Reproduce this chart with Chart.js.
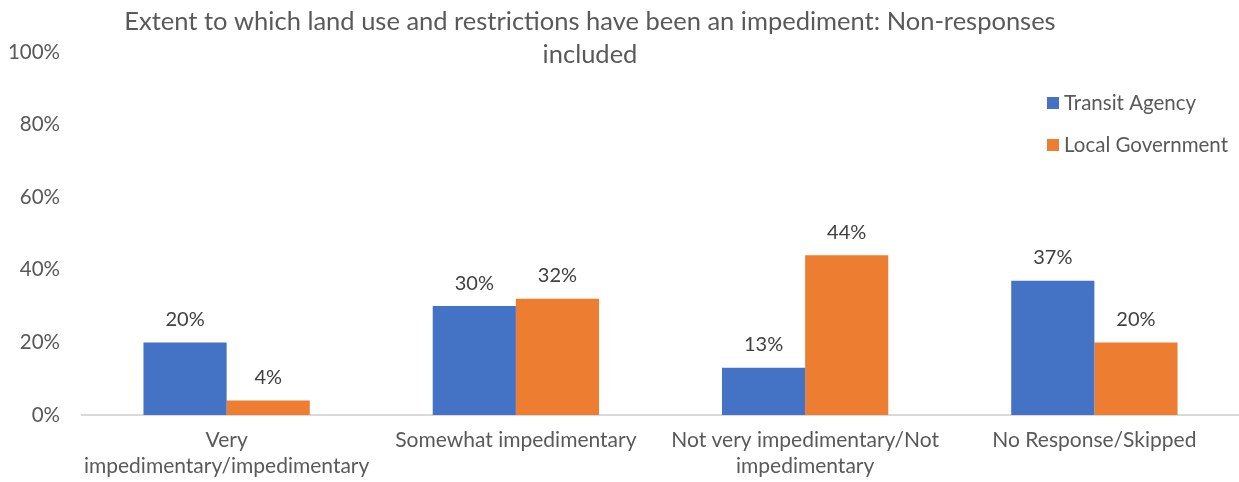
<!DOCTYPE html>
<html>
<head>
<meta charset="utf-8">
<script src="https://cdn.jsdelivr.net/npm/chart.js@4"></script>
<style>
  html, body { margin: 0; padding: 0; background: #fff; }
  #wrap { width: 1239px; height: 482px; position: relative; }
</style>
</head>
<body>
<div id="wrap"><canvas id="c" width="1239" height="482"></canvas></div>
<script>
const titleLines = ["Extent to which land use and restrictions have been an impediment: Non-responses", "included"];
const categories = [
  ["Very", "impedimentary/impedimentary"],
  ["Somewhat impedimentary"],
  ["Not very impedimentary/Not", "impedimentary"],
  ["No Response/Skipped"]
];
const transitAgency = [20, 30, 13, 37];
const localGovernment = [4, 32, 44, 20];
const yTicks = [0, 20, 40, 60, 80, 100];

const FONT = "Lato, 'Open Sans', sans-serif";
const TEXT = "#595959";

const titlePlugin = {
  id: 'customTitle',
  afterDraw(chart) {
    const ctx = chart.ctx;
    ctx.save();
    ctx.font = "25.5px " + FONT;
    ctx.fillStyle = TEXT;
    ctx.textAlign = 'center';
    ctx.textBaseline = 'middle';
    ctx.fillText(titleLines[0], 590, 22);
    ctx.fillText(titleLines[1], 590, 55);
    ctx.restore();
  }
};

const legendPlugin = {
  id: 'customLegend',
  afterDraw(chart) {
    const ctx = chart.ctx;
    ctx.save();
    ctx.font = "20.5px " + FONT;
    ctx.textBaseline = 'middle';
    ctx.textAlign = 'left';
    chart.data.datasets.forEach((ds, i) => {
      const y = 103 + i * 42;
      ctx.fillStyle = ds.backgroundColor;
      ctx.fillRect(1047, y - 6, 12, 12);
      ctx.fillStyle = TEXT;
      ctx.fillText(ds.label, 1064, y);
    });
    ctx.restore();
  }
};

const valueLabels = {
  id: 'valueLabels',
  afterDatasetsDraw(chart) {
    const ctx = chart.ctx;
    ctx.save();
    ctx.font = "20px " + FONT;
    ctx.fillStyle = "#404040";
    ctx.textAlign = 'center';
    ctx.textBaseline = 'middle';
    chart.data.datasets.forEach((ds, i) => {
      const meta = chart.getDatasetMeta(i);
      meta.data.forEach((bar, j) => {
        ctx.fillText(ds.data[j] + '%', bar.x, bar.y - 23);
      });
    });
    ctx.restore();
  }
};

new Chart(document.getElementById('c'), {
  type: 'bar',
  data: {
    labels: categories,
    datasets: [
      { label: 'Transit Agency', data: transitAgency, backgroundColor: '#4472C4', categoryPercentage: 0.575, barPercentage: 1.0 },
      { label: 'Local Government', data: localGovernment, backgroundColor: '#ED7D31', categoryPercentage: 0.575, barPercentage: 1.0 }
    ]
  },
  options: {
    responsive: false,
    animation: false,
    devicePixelRatio: 1,
    layout: { padding: { top: 52, left: 0, right: 0, bottom: 0 } },
    plugins: {
      legend: { display: false },
      title: { display: false },
      tooltip: { enabled: false }
    },
    scales: {
      x: {
        grid: { display: false, drawTicks: false },
        border: { display: true, color: '#D9D9D9', width: 2 },
        ticks: { color: TEXT, font: { family: FONT, size: 21, lineHeight: 1.25 }, padding: 12, maxRotation: 0, autoSkip: false },
        afterFit(scale) { scale.height = 67; }
      },
      y: {
        min: 0, max: 100,
        afterBuildTicks(scale) { scale.ticks = yTicks.map(v => ({ value: v })); },
        grid: { display: false, drawTicks: false },
        border: { display: false },
        ticks: { color: TEXT, font: { family: FONT, size: 20.5 }, padding: 22, callback: v => v + '%' },
        afterFit(scale) { scale.width = 82; }
      }
    }
  },
  plugins: [titlePlugin, legendPlugin, valueLabels]
});
</script>
</body>
</html>
